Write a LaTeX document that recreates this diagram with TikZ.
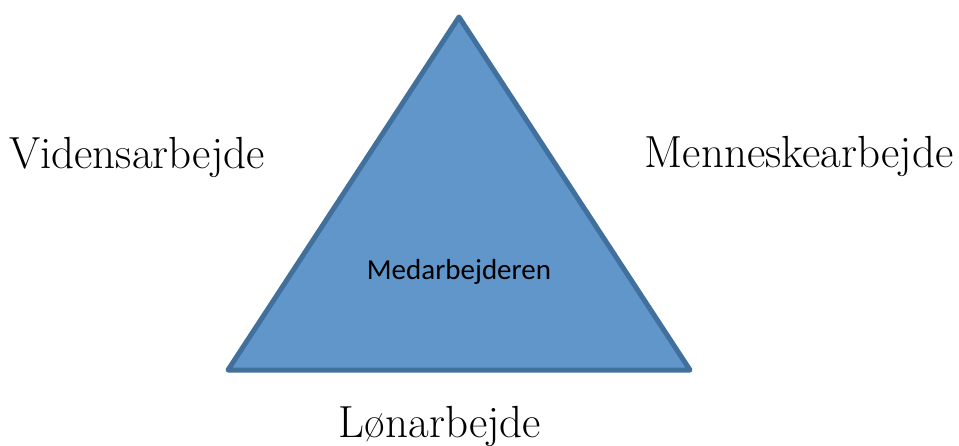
\documentclass[tikz,border=0pt]{standalone}
\usepackage{fontspec}
\newfontfamily\calibrifont{Carlito}
\usepackage{xcolor}
\usetikzlibrary{positioning}
\definecolor{trifill}{RGB}{97,150,202}
\definecolor{triline}{RGB}{66,112,156}
\tikzset{
    sidelabel/.style={font=\fontsize{45}{54}\selectfont, anchor=base},
    innerlabel/.style={font=\calibrifont\fontsize{29}{34}\selectfont, anchor=base}
}
\begin{document}
\begin{tikzpicture}[x=1pt, y=-1pt]

        \useasboundingbox (0,0) rectangle (959,445);

        \coordinate (top) at (459,17);
        \coordinate (left) at (228,370);
        \coordinate (right) at (690,370);

        \draw[fill=trifill, draw=triline, line width=5pt, line join=round] (top) -- (left) -- (right) -- cycle;

        \node[innerlabel] (center) at (459,279) {Medarbejderen};
        \node[sidelabel] (viden) at (137,168) {Vidensarbejde};
        \node[sidelabel] (menneske) at (799,167) {Menneskearbejde};
        \node[sidelabel] (loen) at (440,437) {Lønarbejde};
\end{tikzpicture}
\end{document}
